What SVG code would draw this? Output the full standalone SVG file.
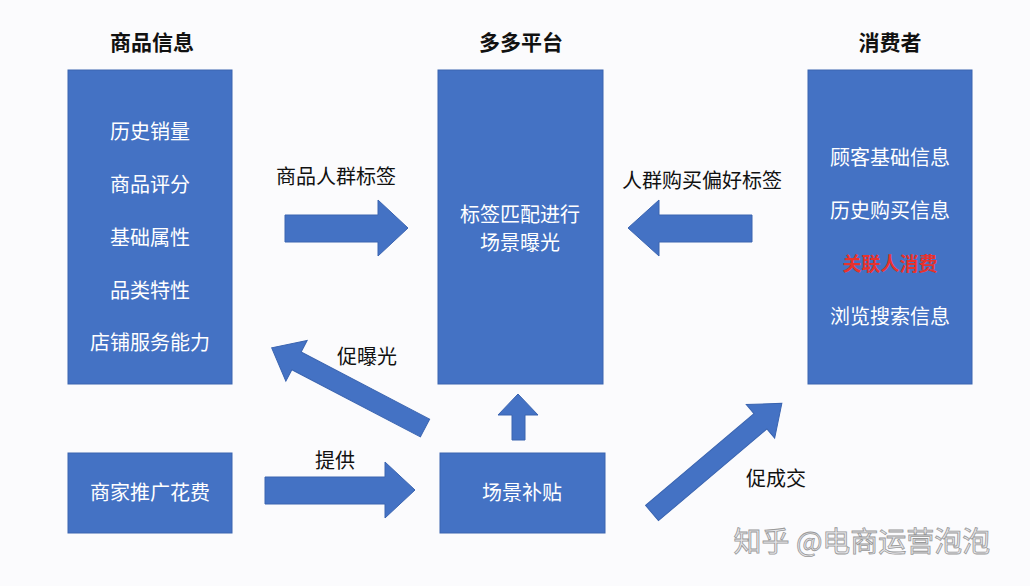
<svg xmlns="http://www.w3.org/2000/svg" width="1030" height="586" viewBox="0 0 1030 586">
<style>
.box{fill:#4472C4;stroke:#3A64B0;stroke-width:1}
.arr{fill:#4472C4;stroke:#3A64B0;stroke-width:1}
.w{fill:#fff;font-family:"Noto Sans CJK SC",sans-serif;font-size:20px;text-anchor:middle}
.k{fill:#111;font-family:"Noto Sans CJK SC",sans-serif;font-size:20px;text-anchor:middle}
.h{fill:#111;font-family:"Noto Sans CJK SC",sans-serif;font-size:21px;font-weight:bold;text-anchor:middle}
</style>
<rect width="1030" height="586" fill="#fbfbfd"/>
<text class="h" x="152" y="50">商品信息</text>
<text class="h" x="521" y="50">多多平台</text>
<text class="h" x="890" y="50">消费者</text>
<g id="goods"><rect class="box" x="68" y="70" width="164" height="314"/>
<text class="w" x="150" y="139">历史销量</text><text class="w" x="150" y="192">商品评分</text><text class="w" x="150" y="245">基础属性</text><text class="w" x="150" y="298">品类特性</text><text class="w" x="150" y="350">店铺服务能力</text></g>
<g id="platform"><rect class="box" x="438" y="70" width="165" height="314"/>
<text class="w" x="520" y="222">标签匹配进行</text><text class="w" x="520" y="250">场景曝光</text></g>
<g id="consumer"><rect class="box" x="808" y="70" width="164" height="314"/>
<text class="w" x="890" y="165">顾客基础信息</text><text class="w" x="890" y="218">历史购买信息</text><text class="w" x="890" y="271" style="fill:#e8322c;font-size:19px;font-weight:bold">关联人消费</text><text class="w" x="890" y="324">浏览搜索信息</text></g>
<g id="merchant"><rect class="box" x="68" y="453" width="164" height="80"/><text class="w" x="150" y="500">商家推广花费</text></g>
<g id="subsidy"><rect class="box" x="440" y="453" width="165" height="80"/><text class="w" x="522" y="500">场景补贴</text></g>
<g id="connectors">
<polygon class="arr" points="285,215 378,215 378,200 408,228 378,256 378,242 285,242"/>
<polygon class="arr" points="752,215 659,215 659,200 628,228 659,256 659,242 752,242"/>
<polygon class="arr" points="512,440 512,415 498,415 518,394 538,415 525,415 525,440"/>
<polygon class="arr" points="265,477 385,477 385,462 415,490 385,518 385,504 265,504"/>
<polygon class="arr" transform="translate(425,428) rotate(207.6)" points="0,-10 145,-10 145,-23 173,0 145,23 145,10 0,10"/>
<polygon class="arr" transform="translate(652,513) rotate(-40.2)" points="0,-10 142,-10 142,-22 170,0 142,22 142,10 0,10"/>
</g>
<text class="k" x="336" y="184">商品人群标签</text>
<text class="k" x="702" y="188">人群购买偏好标签</text>
<text class="k" x="367" y="364">促曝光</text>
<text class="k" x="335" y="468">提供</text>
<text class="k" x="776" y="486">促成交</text>
<text x="862" y="552" fill="#e6e6ea" stroke="#999" stroke-width="0.8" font-family="Noto Sans CJK SC,sans-serif" font-size="28" text-anchor="middle">知乎 @电商运营泡泡</text>
</svg>
